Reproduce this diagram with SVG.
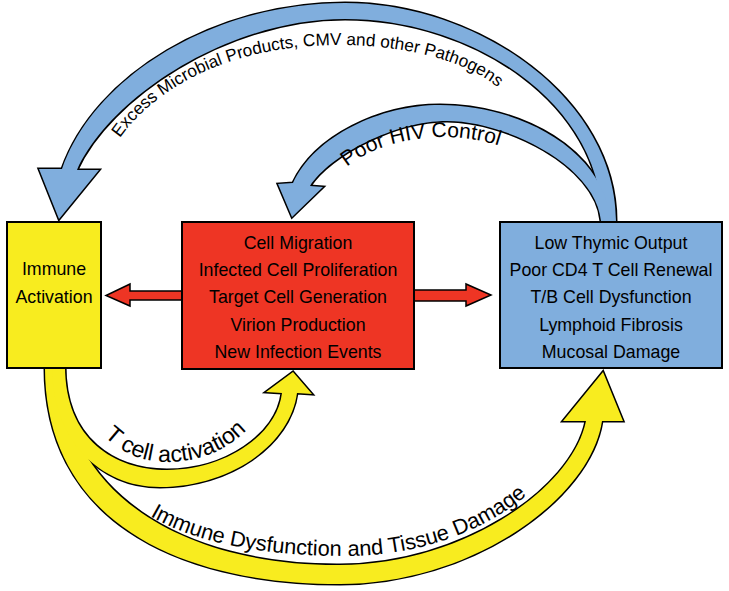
<svg xmlns="http://www.w3.org/2000/svg" width="729" height="591" viewBox="0 0 729 591">
<style>
.box{stroke:#000;stroke-width:2}
.t{font-family:"Liberation Sans",Arial,Helvetica,sans-serif;fill:#000}
.bt{font-size:17.8px;text-anchor:middle}
.os{stroke:#000;stroke-width:3;stroke-linejoin:miter}
.blue{fill:#80aedd}
.yellow{fill:#f8ec1f}
.red{fill:#ee3524}
.ra{fill:#ee3524;stroke:#000;stroke-width:1.5;stroke-linejoin:miter}
</style>
<defs>
<path id="bigBlue" d="M 62,169 C 95,75 215,3 345,3 C 480,3 616,100 616,221 L 602,221 C 602,105 475,19 345,19 C 225,19 108,100 77,170 L 99,170 L 59,219 L 39,169 Z"/>
<path id="smallBlue" d="M 293,183 C 315,136 380,105 440,105 C 520,105 605,150 610,221 L 601,221 C 596,165 505,121 447,121 C 395,121 330,155 310,186 L 323,187 L 292,217 L 278,184 Z"/>
<path id="bigYellow" d="M 45,366 C 44,515 170,584 340,584 C 470,584 590,500 602,421 L 623,421 L 603,372 L 563,421 L 586,421 C 572,490 460,565 340,565 C 180,566 62,490 62,366 Z"/>
<path id="tcell" d="M 52,366 C 52,440 100,487 160,487 C 230,487 290,445 297,393 L 312,394 L 293,372 L 266,392 L 282,393 C 277,435 225,470 167,470 C 115,470 65,440 65,366 Z"/>
<path id="pExcess" d="M 120,138 C 150,95 220,45 340,45 C 400,45 473,60 503,93 L 520,113"/>
<path id="pPoor" d="M 347,167 C 371,147 405,138 442,137 C 478,137 508,146 532,161 L 545,171"/>
<path id="pTcell" d="M 104,436 C 122,453 142,462 167,462 C 202,462 232,448 252,424 L 262,410"/>
<path id="pImm" d="M 150,516 C 200,545 270,556 345,556 C 420,556 490,530 535,488 L 545,476"/>
</defs>

<g id="connectors">
  <g id="blue-arrows">
    <use href="#bigBlue" class="blue os"/>
    <use href="#smallBlue" class="blue os"/>
    <use href="#bigBlue" class="blue"/>
    <use href="#smallBlue" class="blue"/>
  </g>
  <g id="yellow-arrows">
    <use href="#bigYellow" class="yellow os"/>
    <use href="#tcell" class="yellow os"/>
    <use href="#bigYellow" class="yellow"/>
    <use href="#tcell" class="yellow"/>
  </g>
  <polygon class="ra" points="183,291 130,291 130,284 106,295.5 130,306 130,300 183,300"/>
  <polygon class="ra" points="413,290 466,290 466,284 491,295 466,306 466,301 413,301"/>
  <text class="t" font-size="17.2"><textPath href="#pExcess">Excess Microbial Products, CMV and other Pathogens</textPath></text>
  <text class="t" font-size="21"><textPath href="#pPoor">Poor HIV Control</textPath></text>
  <text class="t" font-size="23"><textPath href="#pTcell">T cell activation</textPath></text>
  <text class="t" font-size="21.7"><textPath href="#pImm">Immune Dysfunction and Tissue Damage</textPath></text>
</g>

<g id="immune-activation">
  <rect class="box yellow" x="7" y="222" width="94" height="146"/>
  <text class="t bt" x="54" y="275">Immune</text>
  <text class="t bt" x="54" y="303">Activation</text>
</g>

<g id="hiv-replication">
  <rect class="box red" x="182" y="222" width="232" height="147"/>
  <text class="t bt" x="298" y="249">Cell Migration</text>
  <text class="t bt" x="298" y="276.2">Infected Cell Proliferation</text>
  <text class="t bt" x="298" y="303.4">Target Cell Generation</text>
  <text class="t bt" x="298" y="330.6">Virion Production</text>
  <text class="t bt" x="298" y="357.8">New Infection Events</text>
</g>

<g id="tissue-damage">
  <rect class="box blue" x="500" y="222" width="222" height="146"/>
  <text class="t bt" x="611" y="249">Low Thymic Output</text>
  <text class="t bt" x="611" y="276.2">Poor CD4 T Cell Renewal</text>
  <text class="t bt" x="611" y="303.4">T/B Cell Dysfunction</text>
  <text class="t bt" x="611" y="330.6">Lymphoid Fibrosis</text>
  <text class="t bt" x="611" y="357.8">Mucosal Damage</text>
</g>
</svg>
